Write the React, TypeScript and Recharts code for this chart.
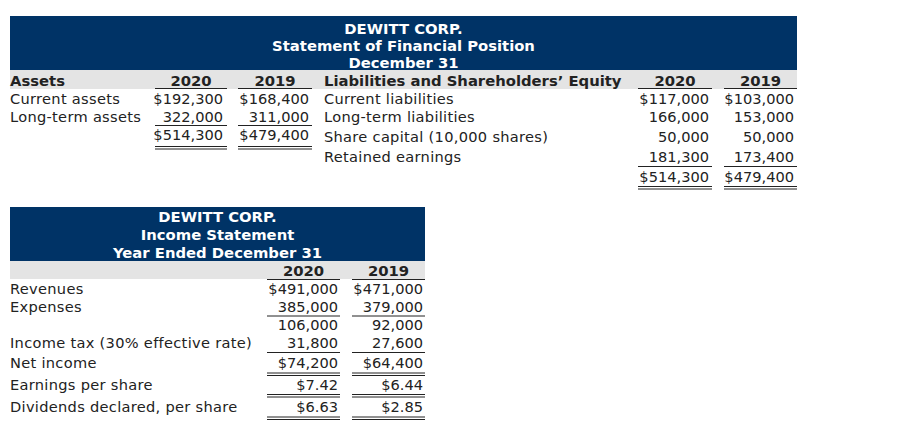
import React from "react";
import { Surface, Layer, Rectangle, Text } from "recharts";

// statement of financial position
const sfpTitle = ["DEWITT CORP.", "Statement of Financial Position", "December 31"];
const years = ["2020", "2019"];
const assetHeader = "Assets";
const liabHeader = "Liabilities and Shareholders\u2019 Equity";
const assetLabels = ["Current assets", "Long-term assets"];
const assets2020 = [192300, 322000];
const assets2019 = [168400, 311000];
const assetsTotal = [514300, 479400];
const liabLabels = ["Current liabilities", "Long-term liabilities", "Share capital (10,000 shares)", "Retained earnings"];
const liab2020 = [117000, 166000, 50000, 181300];
const liab2019 = [103000, 153000, 50000, 173400];
const liabTotal = [514300, 479400];

// income statement
const isTitle = ["DEWITT CORP.", "Income Statement", "Year Ended December 31"];
const isLabels = ["Revenues", "Expenses", "", "Income tax (30% effective rate)", "Net income", "Earnings per share", "Dividends declared, per share"];
const is2020 = [491000, 385000, 106000, 31800, 74200, 7.42, 6.63];
const is2019 = [471000, 379000, 92000, 27600, 64400, 6.44, 2.85];
const isDollar = [true, false, false, false, true, true, true];
// line under each row: 0 none, 1 single, 2 double
const isRule = [0, 1, 0, 1, 2, 2, 2];

const NAVY = "#003366";
const GRAY = "#e4e4e4";
const INK = "#222";
const FONT = "'DejaVu Sans', Verdana, sans-serif";
const FS = 14.6;
const FSB = 14.8;

const fmt = (v: number, dollar: boolean) => {
  const s = Number.isInteger(v)
    ? v.toLocaleString("en-US")
    : v.toFixed(2);
  return dollar ? "$" + s : s;
};

type Col = { x0: number; x1: number; tx: number };

const Cell = ({ x, y, children, anchor = "start", bold = false, fill = INK, spacing = 0 }: any) => (
  <Text
    x={x}
    y={y}
    textAnchor={anchor}
    verticalAnchor="middle"
    fontFamily={FONT}
    fontSize={bold ? FSB : FS}
    fontWeight={bold ? "bold" : "normal"}
    letterSpacing={spacing}
    fill={fill}
  >
    {children}
  </Text>
);

// row labels are a touch wider in the original (Verdana)
const Label = (props: any) => <Cell spacing={0.3} {...props} />;

const Rule = ({ col, y, double = false }: { col: Col; y: number; double?: boolean }) => (
  <g stroke={INK} strokeWidth={1}>
    <line x1={col.x0} x2={col.x1} y1={y} y2={y} />
    {double && <line x1={col.x0} x2={col.x1} y1={y + 2.5} y2={y + 2.5} />}
  </g>
);

export default function App() {
  // top table columns
  const L20: Col = { x0: 155, x1: 227, tx: 223 };
  const L19: Col = { x0: 238, x1: 312, tx: 309 };
  const R20: Col = { x0: 638, x1: 712, tx: 709 };
  const R19: Col = { x0: 724, x1: 797, tx: 794 };
  const topRows = [98.5, 116.5, 136.5, 157, 177];

  // bottom table columns
  const B20: Col = { x0: 267, x1: 340, tx: 338 };
  const B19: Col = { x0: 352, x1: 425, tx: 423 };
  const botRows = [289, 307, 325, 343, 363, 384.5, 407];
  const botRules = [0, 316, 0, 352.5, 373, 394.5, 417];

  const mid = (c: Col) => (c.x0 + c.x1) / 2;

  return (
    <div style={{ position: "absolute", left: 0, top: 0, width: 904, height: 426, background: "#fff" }}>
      <Surface width={904} height={426}>
        {/* Statement of Financial Position */}
        <Layer>
          <Rectangle x={10} y={16} width={787} height={54} fill={NAVY} />
          <Rectangle x={10} y={70} width={787} height={19} fill={GRAY} />
          {sfpTitle.map((t, i) => (
            <Cell key={t} x={403.5} y={29 + i * 17} anchor="middle" bold fill="#fff">
              {t}
            </Cell>
          ))}
          <Cell x={10} y={80.5} bold>{assetHeader}</Cell>
          <Cell x={324} y={80.5} bold>{liabHeader}</Cell>
          {[L20, L19, R20, R19].map((c, i) => (
            <g key={i}>
              <Cell x={mid(c)} y={80.5} anchor="middle" bold>{years[i % 2]}</Cell>
              <Rule col={c} y={88.5} />
            </g>
          ))}
          {assetLabels.map((l, i) => (
            <g key={l}>
              <Label x={10} y={topRows[i]}>{l}</Label>
              <Cell x={L20.tx} y={topRows[i]} anchor="end">{fmt(assets2020[i], i === 0)}</Cell>
              <Cell x={L19.tx} y={topRows[i]} anchor="end">{fmt(assets2019[i], i === 0)}</Cell>
            </g>
          ))}
          <Rule col={L20} y={125.5} />
          <Rule col={L19} y={125.5} />
          <Cell x={L20.tx} y={135} anchor="end">{fmt(assetsTotal[0], true)}</Cell>
          <Cell x={L19.tx} y={135} anchor="end">{fmt(assetsTotal[1], true)}</Cell>
          <Rule col={L20} y={146.5} double />
          <Rule col={L19} y={146.5} double />

          {liabLabels.map((l, i) => (
            <g key={l}>
              <Label x={324} y={topRows[i]}>{l}</Label>
              <Cell x={R20.tx} y={topRows[i]} anchor="end">{fmt(liab2020[i], i === 0)}</Cell>
              <Cell x={R19.tx} y={topRows[i]} anchor="end">{fmt(liab2019[i], i === 0)}</Cell>
            </g>
          ))}
          <Rule col={R20} y={166.5} />
          <Rule col={R19} y={166.5} />
          <Cell x={R20.tx} y={topRows[4]} anchor="end">{fmt(liabTotal[0], true)}</Cell>
          <Cell x={R19.tx} y={topRows[4]} anchor="end">{fmt(liabTotal[1], true)}</Cell>
          <Rule col={R20} y={186.5} double />
          <Rule col={R19} y={186.5} double />
        </Layer>

        {/* Income Statement */}
        <Layer>
          <Rectangle x={10} y={207} width={415} height={54} fill={NAVY} />
          <Rectangle x={10} y={261} width={415} height={18} fill={GRAY} />
          {isTitle.map((t, i) => (
            <Cell key={t} x={217.5} y={216.5 + i * 18} anchor="middle" bold fill="#fff">
              {t}
            </Cell>
          ))}
          {[B20, B19].map((c, i) => (
            <g key={i}>
              <Cell x={mid(c)} y={270.5} anchor="middle" bold>{years[i]}</Cell>
              <Rule col={c} y={279.5} />
            </g>
          ))}
          {isLabels.map((l, i) => (
            <g key={i}>
              {l && <Label x={10} y={botRows[i]}>{l}</Label>}
              <Cell x={B20.tx} y={botRows[i]} anchor="end">{fmt(is2020[i], isDollar[i])}</Cell>
              <Cell x={B19.tx} y={botRows[i]} anchor="end">{fmt(is2019[i], isDollar[i])}</Cell>
              {isRule[i] > 0 && (
                <>
                  <Rule col={B20} y={botRules[i]} double={isRule[i] === 2} />
                  <Rule col={B19} y={botRules[i]} double={isRule[i] === 2} />
                </>
              )}
            </g>
          ))}
        </Layer>
      </Surface>
    </div>
  );
}
